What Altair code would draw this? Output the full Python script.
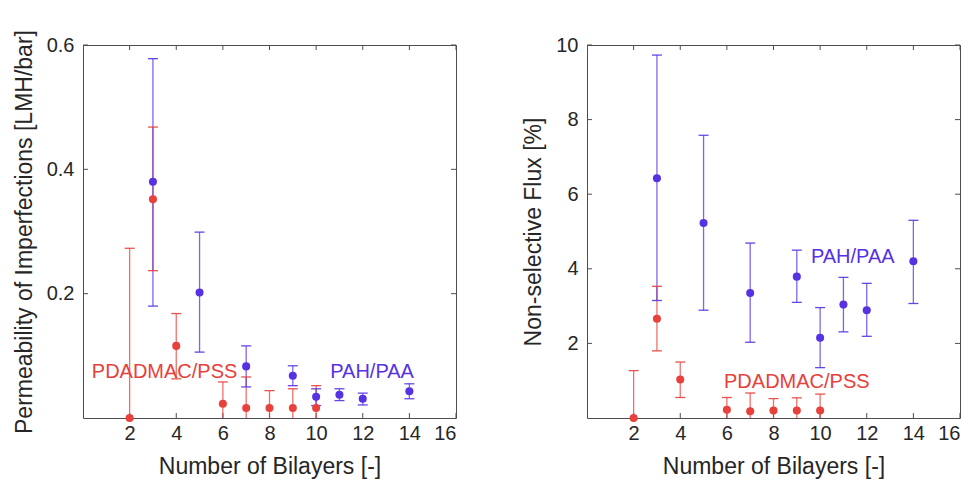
import altair as alt
import pandas as pd

# ---------------- data ----------------
x_ticks = [2, 4, 6, 8, 10, 12, 14, 16]
perm_ticks = [0.2, 0.4, 0.6]
flux_ticks = [2, 4, 6, 8, 10]

bilayers_pdadmac = [2, 3, 4, 6, 7, 8, 9, 10]
bilayers_pah = [3, 5, 7, 9, 10, 11, 12, 14]

perm_pdadmac = [0.0, 0.352, 0.116, 0.023, 0.016, 0.016, 0.016, 0.016]
perm_pdadmac_hi = [0.273, 0.468, 0.168, 0.058, 0.066, 0.044, 0.047, 0.052]
perm_pdadmac_lo = [-0.273, 0.237, 0.063, -0.012, -0.034, -0.012, -0.015, -0.020]
perm_pah = [0.380, 0.202, 0.083, 0.068, 0.034, 0.0375, 0.031, 0.043]
perm_pah_hi = [0.578, 0.299, 0.116, 0.084, 0.047, 0.047, 0.040, 0.055]
perm_pah_lo = [0.180, 0.106, 0.050, 0.052, 0.020, 0.028, 0.021, 0.031]

flux_pdadmac = [0.0, 2.66, 1.03, 0.22, 0.18, 0.20, 0.20, 0.20]
flux_pdadmac_hi = [1.27, 3.53, 1.50, 0.55, 0.67, 0.52, 0.54, 0.64]
flux_pdadmac_lo = [-1.27, 1.80, 0.55, -0.11, -0.31, -0.12, -0.14, -0.24]
flux_pah = [6.43, 5.23, 3.35, 3.79, 2.15, 3.04, 2.89, 4.20]
flux_pah_hi = [9.73, 7.58, 4.69, 4.50, 2.96, 3.77, 3.61, 5.30]
flux_pah_lo = [3.15, 2.89, 2.03, 3.10, 1.35, 2.31, 2.19, 3.07]

series_names = ["PDADMAC/PSS", "PAH/PAA"]
perm_label_x = [3.5, 12.4]
perm_label_y = [0.074, 0.074]
flux_label_x = [9.0, 11.4]
flux_label_y = [0.97, 4.32]

# ---------------- style ----------------
RED = "#e8403b"
BLUE = "#5632e3"
AXC = "#4d4d4d"
TXT = "#262626"
FONT = "Liberation Sans"
W = 373
H = 373
TL = 5


def make_df(xs_a, ys_a, hi_a, lo_a, xs_b, ys_b, hi_b, lo_b):
    a = pd.DataFrame({"x": xs_a, "y": ys_a, "hi": hi_a, "lo": lo_a, "s": series_names[0]})
    b = pd.DataFrame({"x": xs_b, "y": ys_b, "hi": hi_b, "lo": lo_b, "s": series_names[1]})
    return pd.concat([a, b], ignore_index=True)


def panel(df, ydom, yticks, yfmt, ytitle, lab_x, lab_y):
    xax = alt.Axis(values=x_ticks, title="Number of Bilayers [-]", ticks=False, domain=False,
                   grid=False, labelPadding=5, titlePadding=12)
    yax = alt.Axis(values=yticks, format=yfmt, title=ytitle, ticks=False, domain=False,
                   grid=False, labelPadding=9, titlePadding=10)
    xs = alt.Scale(domain=[0, 16], nice=False, zero=False)
    ys = alt.Scale(domain=ydom, nice=False, zero=False)
    col = alt.Color("s:N", scale=alt.Scale(domain=series_names, range=[RED, BLUE]), legend=None)

    X = lambda: alt.X("x:Q", scale=xs, axis=xax)
    Y = lambda f="y": alt.Y(f + ":Q", scale=ys, axis=yax)

    base = alt.Chart(df)
    bars = base.mark_rule(strokeWidth=1.3, opacity=0.75, clip=True).encode(
        x=X(), y=Y("lo"), y2=alt.Y2("hi:Q"), color=col)
    caps_hi = base.mark_tick(orient="horizontal", size=10, thickness=1.3, opacity=0.9).encode(
        x=X(), y=Y("hi"), color=col)
    caps_lo = base.transform_filter("datum.lo >= 0").mark_tick(
        orient="horizontal", size=10, thickness=1.3, opacity=0.9).encode(
        x=X(), y=Y("lo"), color=col)
    pts = base.mark_circle(size=65, opacity=1).encode(x=X(), y=Y(), color=col)

    ann = pd.DataFrame({"x": lab_x, "y": lab_y, "s": series_names})
    txt = alt.Chart(ann).mark_text(font=FONT, fontSize=20, align="center", baseline="middle").encode(
        x=X(), y=Y(), text="s:N", color=col)

    xt = pd.DataFrame({"x": x_ticks})
    yt = pd.DataFrame({"y": yticks})
    xt_b = alt.Chart(xt).mark_rule(color=AXC, strokeWidth=1).encode(
        x=X(), y=alt.value(H), y2=alt.value(H - TL))
    xt_t = alt.Chart(xt).mark_rule(color=AXC, strokeWidth=1).encode(
        x=X(), y=alt.value(0), y2=alt.value(TL))
    yt_l = alt.Chart(yt).mark_rule(color=AXC, strokeWidth=1).encode(
        y=Y(), x=alt.value(0), x2=alt.value(TL))
    yt_r = alt.Chart(yt).mark_rule(color=AXC, strokeWidth=1).encode(
        y=Y(), x=alt.value(W - TL), x2=alt.value(W))

    return alt.layer(xt_b, xt_t, yt_l, yt_r, bars, caps_hi, caps_lo, pts, txt).properties(
        width=W, height=H)


perm_df = make_df(bilayers_pdadmac, perm_pdadmac, perm_pdadmac_hi, perm_pdadmac_lo,
                  bilayers_pah, perm_pah, perm_pah_hi, perm_pah_lo)
flux_df = make_df(bilayers_pdadmac, flux_pdadmac, flux_pdadmac_hi, flux_pdadmac_lo,
                  bilayers_pah, flux_pah, flux_pah_hi, flux_pah_lo)

left = panel(perm_df, [0, 0.6], perm_ticks, ".1f",
             "Permeability of Imperfections [LMH/bar]", perm_label_x, perm_label_y)
right = panel(flux_df, [0, 10], flux_ticks, "d",
              "Non-selective Flux [%]", flux_label_x, flux_label_y)

chart = alt.hconcat(left, right, spacing=65).properties(
    padding={"left": 4, "top": 21, "right": 0, "bottom": 0}
).configure_view(
    stroke=AXC, strokeWidth=1
).configure_axis(
    labelFont=FONT, titleFont=FONT, labelFontSize=20, titleFontSize=23,
    labelColor=TXT, titleColor=TXT, titleFontWeight="normal"
)

chart.save("out.html", embed_options={"renderer": "svg", "actions": False})
